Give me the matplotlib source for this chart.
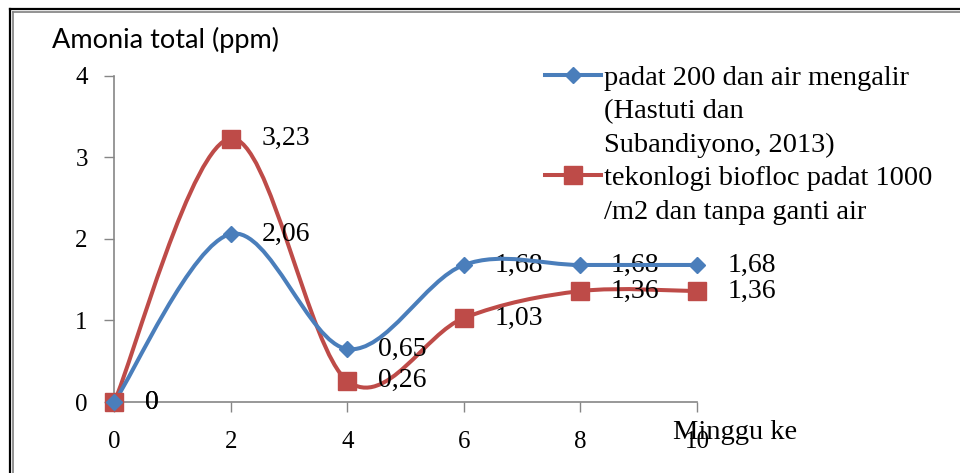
import numpy as np
import matplotlib
matplotlib.use("Agg")
import matplotlib.pyplot as plt
from matplotlib.path import Path
from matplotlib.patches import PathPatch
from matplotlib.lines import Line2D

# data
minggu = [0, 2, 4, 6, 8, 10]
padat200 = [0, 2.06, 0.65, 1.68, 1.68, 1.68]
biofloc = [0, 3.23, 0.26, 1.03, 1.36, 1.36]
label_padat200 = ["0", "2,06", "0,65", "1,68", "1,68", "1,68"]
label_biofloc = ["0", "3,23", "0,26", "1,03", "1,36", "1,36"]
legend_padat200 = ["padat 200 dan air mengalir", "(Hastuti dan", "Subandiyono, 2013)"]
legend_biofloc = ["tekonlogi biofloc padat 1000", "/m2 dan tanpa ganti air"]

blue = "#4A7EBB"
red = "#BE4B48"
serif = "Liberation Serif"


def smooth_path(x, y):
    # excel style smoothed line: cubic bezier, tangents from neighbours
    pts = np.column_stack([x, y]).astype(float)
    n = len(pts)
    verts = [pts[0]]
    codes = [Path.MOVETO]
    for i in range(n - 1):
        p0 = pts[max(i - 1, 0)]
        p1 = pts[i]
        p2 = pts[i + 1]
        p3 = pts[min(i + 2, n - 1)]
        c1 = p1 + (p2 - p0) / 6.0
        c2 = p2 - (p3 - p1) / 6.0
        verts += [c1, c2, p2]
        codes += [Path.CURVE4] * 3
    return Path(verts, codes)


fig = plt.figure(figsize=(9.6, 4.73), dpi=100)
ax = fig.add_axes([0.119, 0.150, 0.607, 0.690])

ax.add_patch(PathPatch(smooth_path(minggu, biofloc), fill=False,
                       edgecolor=red, lw=2.9, zorder=3, clip_on=False))
ax.add_patch(PathPatch(smooth_path(minggu, padat200), fill=False,
                       edgecolor=blue, lw=2.9, zorder=4, clip_on=False))
ax.plot(minggu, biofloc, ls="none", marker="s", ms=13, color=red,
        mec=red, zorder=5, clip_on=False)
ax.plot(minggu, padat200, ls="none", marker="D", ms=8, color=blue,
        mec=blue, zorder=6, clip_on=False)

for xv, yv, t in zip(minggu, biofloc, label_biofloc):
    ax.annotate(t, (xv, yv), xytext=(22, 0), textcoords="offset points",
                ha="left", va="center", fontsize=20, family=serif)
for xv, yv, t in zip(minggu, padat200, label_padat200):
    ax.annotate(t, (xv, yv), xytext=(22, 0), textcoords="offset points",
                ha="left", va="center", fontsize=20, family=serif)

ax.set_xlim(0, 10)
ax.set_ylim(0, 4)
ax.set_xticks(range(0, 11, 2))
ax.set_yticks(range(0, 5))
for s in ["top", "right"]:
    ax.spines[s].set_visible(False)
for s in ["left", "bottom"]:
    ax.spines[s].set_color("#868686")
    ax.spines[s].set_linewidth(1.2)
ax.tick_params(axis="both", direction="out", length=7, width=1,
               color="#868686", labelsize=18)
ax.tick_params(axis="x", pad=14)
ax.tick_params(axis="y", pad=12)
for lab in ax.get_xticklabels() + ax.get_yticklabels():
    lab.set_family(serif)

# legend: first line of each entry carries the handle
h_blue = Line2D([], [], color=blue, lw=2.9, marker="D", ms=8)
h_red = Line2D([], [], color=red, lw=2.9, marker="s", ms=13)
h_none = Line2D([], [], ls="none")
handles = [h_blue] + [h_none] * (len(legend_padat200) - 1) + \
          [h_red] + [h_none] * (len(legend_biofloc) - 1)
labels = legend_padat200 + legend_biofloc
ax.legend(handles, labels, loc="upper left",
          bbox_to_anchor=(0.568, 0.862), bbox_transform=fig.transFigure,
          frameon=False, borderpad=0, borderaxespad=0,
          handlelength=1.95, handletextpad=0.12, labelspacing=0.26,
          prop={"family": serif, "size": 20.5})

fig.text(52 / 960, 1 - 40 / 473, "Amonia total (ppm)", family="Lato",
         fontsize=19.5, ha="left", va="center")
fig.text(735 / 960, 1 - 432 / 473, "Minggu ke", family=serif,
         fontsize=20.5, ha="center", va="center")

# outer frame (double line, top and left visible)
fig.add_artist(Line2D([9.5 / 960, 9.5 / 960], [0, 1 - 9.5 / 473],
                      transform=fig.transFigure, color="black", lw=1.6))
fig.add_artist(Line2D([9.5 / 960, 1], [1 - 9.5 / 473, 1 - 9.5 / 473],
                      transform=fig.transFigure, color="black", lw=1.6))
fig.add_artist(Line2D([12.5 / 960, 12.5 / 960], [0, 1 - 12.5 / 473],
                      transform=fig.transFigure, color="#808080", lw=1.2))
fig.add_artist(Line2D([12.5 / 960, 1], [1 - 12.5 / 473, 1 - 12.5 / 473],
                      transform=fig.transFigure, color="#808080", lw=1.2))

fig.savefig("out.png", dpi=100)
